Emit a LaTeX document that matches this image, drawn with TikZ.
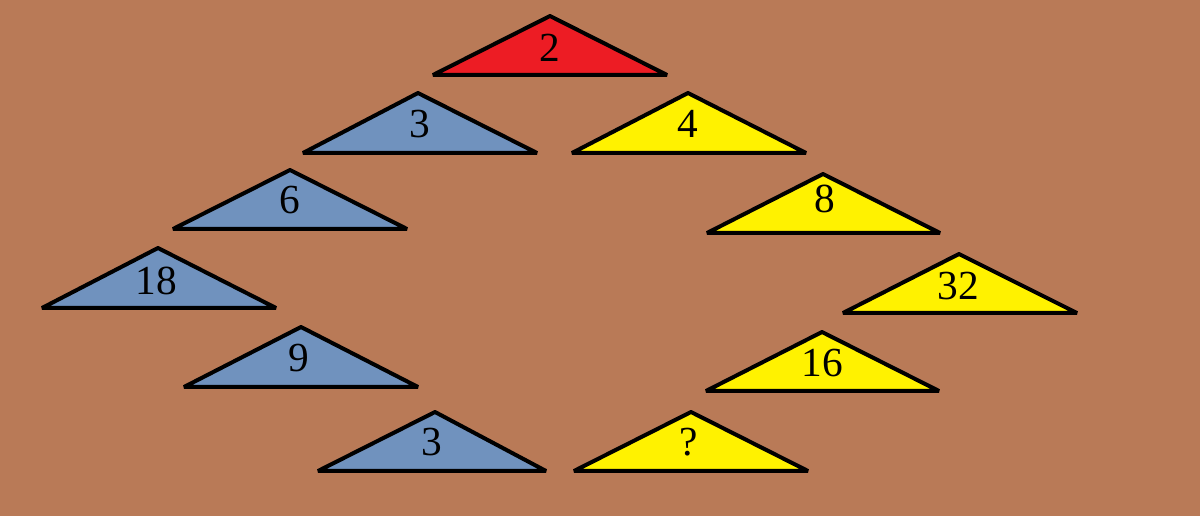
\documentclass[tikz,border=0pt]{standalone}
\usepackage{fontspec}
\setmainfont{Liberation Serif}
\definecolor{bgbrown}{RGB}{185,122,87}
\definecolor{tblue}{RGB}{112,146,190}
\definecolor{tyellow}{RGB}{255,242,0}
\definecolor{tred}{RGB}{237,28,36}
\tikzset{
  tri/.style={draw=black, line width=3pt, line join=bevel},
  num/.style={anchor=base, inner sep=0pt, font=\fontsize{31}{31}\selectfont, text=black}
}
% name, colour, apex x, apex y, base left, base right, base y, text x, text baseline y, text
\newcommand\mytri[9]{%
  \coordinate (#1a) at (#3,#4);
  \coordinate (#1l) at (#5,#7);
  \coordinate (#1r) at (#6,#7);
  \filldraw[tri, fill=#2] (#1a) -- (#1r) -- (#1l) -- cycle;
  \node[num] (#1) at (#8,#9) {\mylabel};
}
\begin{document}
\begin{tikzpicture}[x=0.75pt,y=-0.75pt]
\fill[bgbrown] (0,0) rectangle (1200,516);
\useasboundingbox (0,0) rectangle (1200,516);
\def\mylabel{2}\mytri{r}{tred}{550}{16}{433}{667}{75}{550}{62}
\def\mylabel{3}\mytri{bA}{tblue}{418}{93}{303}{537}{153}{420}{138}
\def\mylabel{4}\mytri{yA}{tyellow}{688}{93}{572}{806}{153}{688}{138}
\def\mylabel{6}\mytri{bB}{tblue}{290}{170}{173}{407}{229}{290}{214}
\def\mylabel{8}\mytri{yB}{tyellow}{823}{174}{707}{940}{233}{825}{213}
\def\mylabel{18}\mytri{bC}{tblue}{158}{248}{42}{276}{308}{156}{295}
\def\mylabel{32}\mytri{yC}{tyellow}{959}{254}{843}{1077}{313}{958}{300}
\def\mylabel{9}\mytri{bD}{tblue}{301}{327}{184}{418}{387}{299}{372}
\def\mylabel{16}\mytri{yD}{tyellow}{822}{332}{706}{939}{391}{822}{377}
\def\mylabel{3}\mytri{bE}{tblue}{435}{412}{318}{546}{471}{432}{456}
\def\mylabel{?}\mytri{yE}{tyellow}{691}{412}{574}{808}{471}{689}{456}
\end{tikzpicture}
\end{document}
